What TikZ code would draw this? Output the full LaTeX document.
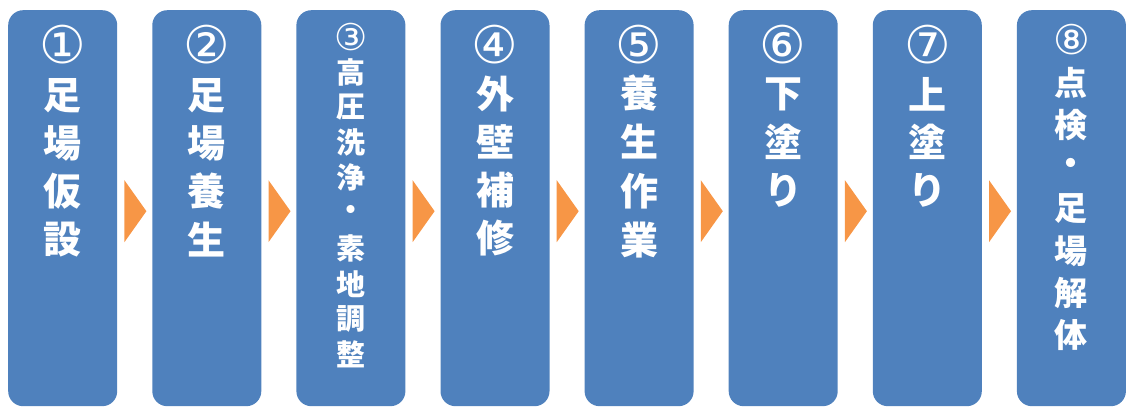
\documentclass[tikz,border=0pt]{standalone}
\usepackage{fontspec}
\newfontfamily\jp{Noto Sans CJK JP}
\newfontfamily\circfont{DejaVu Sans}
\usetikzlibrary{calc}
\definecolor{boxblue}{HTML}{4F81BD}
\definecolor{arrorange}{HTML}{F79646}
\tikzset{
  stepbox/.style={fill=boxblue, draw=none, rounded corners=15pt, inner sep=0pt,
    minimum width=109pt, minimum height=396pt, anchor=north west},
  chr/.style={text=white, inner sep=0pt, anchor=center},
  flowtri/.style={fill=arrorange, draw=none}
}
% #1 box, #2 font size, #3 circled text, #4 circled y, #5 first char y, #6 pitch, #7 list, #8 circle font size
\newcommand\stepcol[8]{%
  \node[chr, font=\circfont\fontsize{#8}{#8}\selectfont] (#1-c) at ($(#1.north)+(0,{#4-10})$) {#3};
  \foreach \ch [count=\i from 0] in {#7} {
    \node[chr, font=\jp\bfseries\fontsize{#2}{#2}\selectfont] (#1-\i) at ($(#1.north)+(0,{#5-10+\i*#6})$) {\ch};
  }%
}
\begin{document}
\begin{tikzpicture}[x=1pt,y=-1pt]
\useasboundingbox (0,0) rectangle (1133,417);
\foreach \k in {1,...,8} {
  \node[stepbox] (b\k) at ({8+(\k-1)*144.1},10) {};
}
\foreach \k in {1,...,7} {
  \fill[flowtri] ($(b\k.east)+(7,-28)$) -- ($(b\k.east)+(29,3)$) -- ($(b\k.east)+(7,34)$) -- cycle;
}
\stepcol{b1}{38}{①}{45}{95.5}{48}{足,場,仮,設}{52}
\stepcol{b2}{38}{②}{45}{95.5}{48}{足,場,養,生}{52}
\stepcol{b3}{29}{③}{37}{72}{35.3}{高,圧,洗,浄,・,素,地,調,整}{37}
\stepcol{b4}{38}{④}{45}{94}{48}{外,壁,補,修}{52}
\stepcol{b5}{38}{⑤}{45}{93}{49}{養,生,作,業}{52}
\stepcol{b6}{38}{⑥}{45}{94}{48}{下,塗,り}{52}
\stepcol{b7}{38}{⑦}{45}{94}{48}{上,塗,り}{52}
\stepcol{b8}{33}{⑧}{40}{83}{42}{点,検,・,足,場,解,体}{41}
\end{tikzpicture}
\end{document}
